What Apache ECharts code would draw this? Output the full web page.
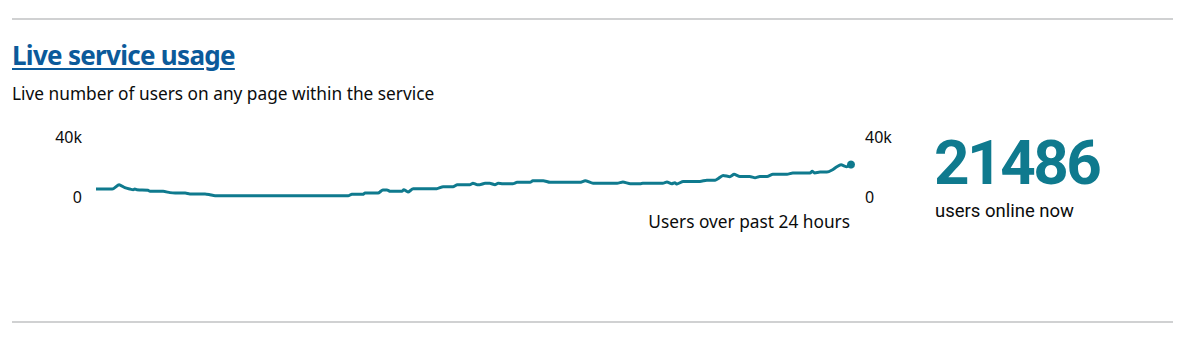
<!DOCTYPE html>
<html>
<head>
<meta charset="utf-8">
<script src="https://cdn.jsdelivr.net/npm/echarts@6/dist/echarts.min.js"></script>
<style>
  html, body { margin: 0; padding: 0; background: #ffffff; width: 1200px; height: 338px; overflow: hidden; }
  body { position: relative; font-family: "Noto Sans", "Liberation Sans", sans-serif; color: #0b0c0c; }
  .rule { position: absolute; left: 12px; width: 1161px; height: 2px; background: #d0d1d2; }
  #title { position: absolute; left: 12px; top: 36px; font-size: 26px; font-weight: 700; line-height: 38px; color: #0b5a9a; text-decoration: underline; text-decoration-thickness: 2px; text-underline-offset: 3px; letter-spacing: -0.7px; }
  #subtitle { position: absolute; left: 12px; top: 81px; font-size: 17.3px; line-height: 26px; }
  #chart { position: absolute; left: 0; top: 0; width: 1200px; height: 338px; }
  #xname { position: absolute; right: 350px; top: 209px; font-size: 17.3px; line-height: 26px; }
  #now { position: absolute; left: 934px; top: 132px; font-family: Roboto, "Noto Sans", sans-serif; font-size: 62px; font-weight: 700; line-height: 62px; color: #0f7a8e; letter-spacing: -2.5px; }
  #nowlabel { position: absolute; left: 935px; top: 200px; font-family: Roboto, "Noto Sans", sans-serif; font-size: 18.5px; line-height: 22px; }
</style>
</head>
<body>
<div class="rule" style="top:18px"></div>
<div id="title">Live service usage</div>
<div id="subtitle">Live number of users on any page within the service</div>
<div id="chart"></div>
<div id="xname">Users over past 24 hours</div>
<div id="now"></div>
<div id="nowlabel">users online now</div>
<div class="rule" style="top:321px"></div>
<script>
// minutes into the past-24-hour window
const minutes = [0,31,44,55,65,71,74,78,84,99,103,128,141,151,170,179,208,217,227,481,488,509,513,538,547,555,561,584,587,595,605,650,662,681,689,713,719,727,732,742,751,761,767,776,795,803,828,833,853,866,923,933,948,994,1005,1019,1038,1043,1081,1089,1098,1104,1108,1120,1152,1165,1181,1186,1196,1209,1217,1228,1247,1257,1266,1280,1291,1318,1329,1362,1366,1371,1381,1394,1404,1413,1421,1432,1440];
// users online
const users = [5000,5000,7900,5900,5000,4600,5000,4500,4400,4200,3500,3500,2600,2300,2300,1700,1700,1200,500,500,1500,1500,2300,2300,4400,4400,3500,3500,4600,3000,5200,5200,6600,6600,7900,7900,8900,7900,7900,8900,8900,7900,8900,8600,8600,9500,9500,10600,10600,9500,9500,10600,8900,8900,9700,8600,8600,8900,8900,9700,8600,9200,8400,10100,10100,11000,11000,11900,14200,13300,14900,13500,13500,12600,13500,13500,14900,14900,15800,15800,16900,15800,16400,16400,17800,20000,21300,20000,21486];
const yTicks = [0, 40000];
const yLabels = ['0', '40k'];
const currentUsers = 21486;

document.getElementById('now').textContent = String(currentUsers);

const data = minutes.map((m, i) => [m, users[i]]);
const last = data.length - 1;
const teal = '#0f7a8e';
const labelStyle = { color: '#0b0c0c', fontSize: 16, fontFamily: '"Noto Sans", "Liberation Sans", sans-serif' };
const fmt = v => yLabels[yTicks.indexOf(v)] ?? '';

const chart = echarts.init(document.getElementById('chart'), null, { renderer: 'svg' });
chart.setOption({
  animation: false,
  grid: { left: 96, right: 349, top: 137, bottom: 141.5, containLabel: false },
  xAxis: { type: 'value', min: 0, max: 1440, show: false },
  yAxis: [
    { type: 'value', min: 0, max: 40000, interval: 40000, position: 'left',
      axisLine: { show: false }, axisTick: { show: false }, splitLine: { show: false },
      axisLabel: Object.assign({ margin: 14, formatter: fmt }, labelStyle) },
    { type: 'value', min: 0, max: 40000, interval: 40000, position: 'right',
      axisLine: { show: false }, axisTick: { show: false }, splitLine: { show: false },
      axisLabel: Object.assign({ margin: 14, formatter: fmt }, labelStyle) }
  ],
  series: [{
    type: 'line',
    data: data,
    smooth: 0.2,
    showSymbol: true,
    showAllSymbol: true,
    symbol: 'circle',
    symbolSize: (v, p) => p.dataIndex === last ? 8 : 0,
    itemStyle: { color: teal },
    lineStyle: { color: teal, width: 3 }
  }]
});
</script>
</body>
</html>
